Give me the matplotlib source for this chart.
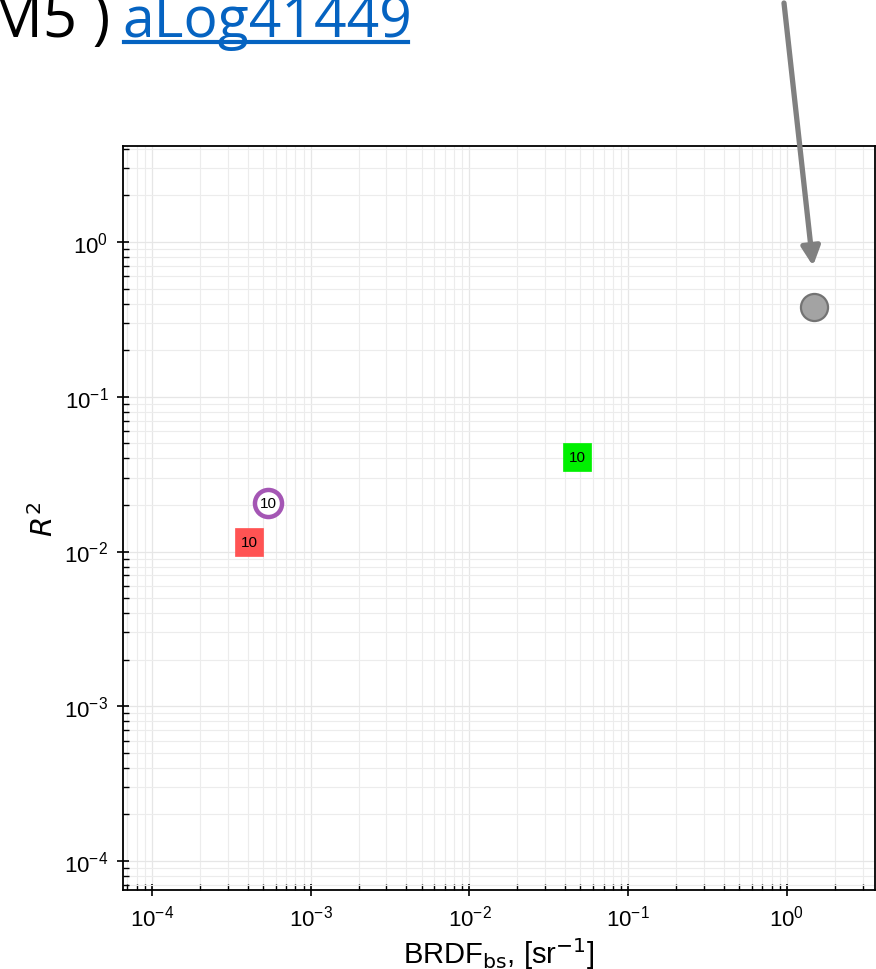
import numpy as np
import matplotlib.pyplot as plt
from matplotlib.patches import FancyArrowPatch
from matplotlib.lines import Line2D

# data
names = ['red', 'purple', 'green', 'grey']
brdf = [4.1e-4, 5.4e-4, 4.75e-2, 1.48]
r2 = [1.15e-2, 2.06e-2, 4.1e-2, 0.38]
counts = ['10', '10', '10', '']
markers = ['s', 'o', 's', 'o']
faces = ['#ff5353', 'white', '#00f000', '#a3a3a3']
edges = ['#ff5353', '#a456b4', '#00f000', '#737373']
edge_w = [0.5, 3.2, 0.5, 1.6]
xticks = [1e-4, 1e-3, 1e-2, 1e-1, 1e0]
yticks = [1e-4, 1e-3, 1e-2, 1e-1, 1e0]

W, H = 876, 970
fig = plt.figure(figsize=(W / 100, H / 100), dpi=100)
ax = fig.add_axes([123 / W, 1 - 891 / H, 752 / W, 744 / H])

ax.set_xscale('log')
ax.set_yscale('log')
ax.set_xlim(6.56e-5, 3.59)
ax.set_ylim(6.5e-5, 4.17)

for i in range(len(names)):
    ax.plot(brdf[i], r2[i], marker=markers[i], ms=20 if markers[i] == 's' else 19.5,
            mfc=faces[i], mec=edges[i], mew=edge_w[i], ls='none', zorder=3)
    if counts[i]:
        ax.text(brdf[i], r2[i], counts[i], ha='center', va='center',
                fontsize=11, family='Liberation Sans', zorder=4)

ax.grid(True, which='major', color='#e6e6e6', lw=0.9)
ax.grid(True, which='minor', color='#ececec', lw=0.8)
ax.set_axisbelow(True)

ax.set_xticks(xticks)
ax.set_yticks(yticks)
ax.tick_params(which='major', direction='inout', length=9, width=1.2,
               labelsize=16, pad=6)
ax.tick_params(which='minor', direction='in', length=4, width=1.0)
for lab in ax.get_xticklabels() + ax.get_yticklabels():
    lab.set_family('Liberation Sans')
for s in ax.spines.values():
    s.set_linewidth(1.3)

ax.set_xlabel(r'BRDF$_{\mathrm{bs}}$, [sr$^{-1}$]', fontsize=21,
              family='Liberation Sans', labelpad=3)
ax.set_ylabel(r'$R^2$', fontsize=21, labelpad=4)

# header text, partly cut off by the top edge
fig.text(110 / W, 1 - 37 / H, 'M5 )', ha='right', va='baseline',
         fontsize=43, family='Open Sans', color='black')
fig.text(122 / W, 1 - 37 / H, 'aLog41449', ha='left', va='baseline',
         fontsize=41, family='Open Sans', color='#0563c1')
fig.add_artist(Line2D([124 / W, 408 / W], [1 - 43 / H, 1 - 43 / H],
                      transform=fig.transFigure, color='#0563c1', lw=3))

# grey arrow pointing at the grey point
arr = FancyArrowPatch((784 / W, 1 - 4 / H), (813 / W, 1 - 267 / H),
                      transform=fig.transFigure, arrowstyle='-|>',
                      mutation_scale=28, color='#808080', lw=3.8,
                      shrinkA=0, shrinkB=0)
fig.add_artist(arr)

fig.savefig('out.png', dpi=100)
